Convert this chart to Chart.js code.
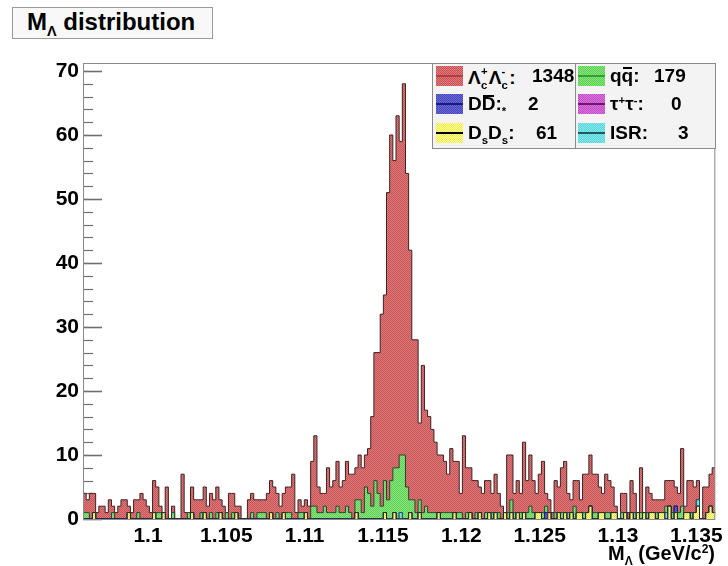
<!DOCTYPE html>
<html lang="en">
<head>
<meta charset="UTF-8">
<title>M_Lambda distribution</title>
<script src="https://cdn.jsdelivr.net/npm/chart.js"></script>
<style>
  body { margin: 0; background: #fff; }
  #wrap { position: relative; width: 728px; height: 566px; font-family: "Liberation Sans", Arial, sans-serif; font-weight: bold; color: #000; }
  #c { position: absolute; left: 0; top: 0; }
  .sub { font-size: 0.6em; position: relative; top: 0.45em; }
  .sup { font-size: 0.6em; position: relative; top: -0.55em; }
  /* bar over a letter, sitting just above the caps */
  .bar { position: relative; }
  .bar::before { content: ""; position: absolute; left: 1px; right: 1px; top: 0.1em; height: 2px; background: #000; }
  /* superscript stacked on subscript, ROOT style */
  .ss { display: inline-block; position: relative; width: 0.42em; height: 1em; vertical-align: baseline; }
  .ss b { position: absolute; left: 0.02em; font-size: 0.6em; }
  .ss .u { top: -0.45em; }
  .ss .d { top: 0.75em; }
  #title { position: absolute; left: 12px; top: 7px; width: 201px; height: 32px; box-sizing: border-box;
           border: 1px solid #9a9a9a; background: #f8f8f8; font-size: 24px; line-height: 28px; padding-left: 14px; white-space: nowrap; }
  #xtitle { position: absolute; right: 13px; top: 542px; font-size: 20px; white-space: nowrap; }
  #legend { position: absolute; left: 432px; top: 63px; width: 284px; height: 86px; box-sizing: border-box;
            border: 1px solid #8a8a8a; background: #f3f3f3; font-size: 19px; }
  #legend .div { position: absolute; left: 142px; top: 0; width: 1px; height: 100%; background: #8a8a8a; }
  .ent { position: absolute; height: 20px; white-space: nowrap; }
  .sw { position: absolute; left: 0; top: 0; width: 27px; height: 20px;
        background: repeating-conic-gradient(var(--a) 0 25%, var(--b) 0 50%) 0 0 / 2px 2px; }
  .sw::after { content: ""; position: absolute; left: 0; right: 0; top: 9px; height: 2px; background: var(--l); }
  .lab { position: absolute; left: 32px; top: -1px; line-height: 22px; }
  .val { position: absolute; top: -1px; line-height: 22px; }
</style>
</head>
<body>
<div id="wrap">
  <canvas id="c" width="728" height="566"></canvas>
  <div id="title">M<span class="sub">Λ</span> distribution</div>
  <div id="legend">
    <div class="div"></div>
    <div class="ent" style="left:3px;top:2px">
      <span class="sw" style="--a:#e27878;--b:#c45458;--l:#b04040"></span>
      <span class="lab">Λ<span class="ss"><b class="u">+</b><b class="d">c</b></span>Λ<span class="ss"><b class="u">-</b><b class="d">c</b></span>:</span>
      <span class="val" id="v-lc" style="left:96px"></span>
    </div>
    <div class="ent" style="left:3px;top:30px">
      <span class="sw" style="--a:#6a6ad8;--b:#4646b4;--l:#1a1a80"></span>
      <span class="lab">D<span class="bar">D</span>:<span class="sub">*</span></span>
      <span class="val" id="v-dd" style="left:92px"></span>
    </div>
    <div class="ent" style="left:3px;top:59px">
      <span class="sw" style="--a:#ffff8c;--b:#ebeb5a;--l:#000"></span>
      <span class="lab">D<span class="sub">s</span>D<span class="sub">s</span>:</span>
      <span class="val" id="v-ds" style="left:100px"></span>
    </div>
    <div class="ent" style="left:145px;top:2px">
      <span class="sw" style="--a:#82e878;--b:#5fcd55;--l:#3a9a3a"></span>
      <span class="lab">q<span class="bar">q</span>:</span>
      <span class="val" id="v-qq" style="left:76px"></span>
    </div>
    <div class="ent" style="left:145px;top:30px">
      <span class="sw" style="--a:#e16ee1;--b:#be50c3;--l:#6a1a6a"></span>
      <span class="lab">τ<span class="sup">+</span>τ<span class="sup">-</span>:</span>
      <span class="val" id="v-tt" style="left:93px"></span>
    </div>
    <div class="ent" style="left:145px;top:59px">
      <span class="sw" style="--a:#82ebeb;--b:#5ad2d7;--l:#1f5a5a"></span>
      <span class="lab">ISR:</span>
      <span class="val" id="v-isr" style="left:100px"></span>
    </div>
  </div>
  <div id="xtitle">M<span class="sub">Λ</span> (GeV/c<span class="sup">2</span>)</div>
</div>
<script>
// histogram binning
const xMin = 1.09585;
const xMax = 1.13621;
const nBins = 200;
const yMax = 71.25;

const xTicks = [1.1, 1.105, 1.11, 1.115, 1.12, 1.125, 1.13, 1.135];
const yTicks = [0, 10, 20, 30, 40, 50, 60, 70];

// events per bin, one array per sample
const lambdaC = [
  3,2,4,3,1,2,2,1,3,1, 1,2,3,3,1,1,3,2,4,3,
  2,1,5,4,1,0,5,0,1,0, 0,7,1,0,4,3,3,2,4,2,
  3,3,4,2,2,0,4,3,1,2, 0,0,3,3,3,2,2,2,4,5,
  5,3,2,3,4,4,7,1,2,1, 2,2,7,11,4,3,2,7,4,5,
  7,4,5,7,6,7,5,7,7,5, 7,14,20,22,30,29,48,54,48,55,
  49,58,49,39,25,27,12,23,15,15, 13,11,9,9,8,6,10,8,8,3,
  13,7,7,6,5,4,4,5,5,3, 6,3,2,0,9,7,3,5,3,11,
  5,8,5,3,6,8,2,2,1,5, 4,7,8,3,2,4,5,2,6,6,
  8,6,6,4,3,6,5,4,1,0, 3,3,1,5,3,0,7,0,4,3,
  2,2,2,2,4,4,5,3,3,9, 1,5,5,4,3,0,5,4,5,7
];
const qqbar = [
  1,1,0,0,0,0,0,0,0,1, 0,0,0,0,0,0,0,1,0,0,
  0,0,0,1,1,0,0,0,1,0, 0,0,0,1,0,0,0,1,0,0,
  1,0,1,0,0,1,0,1,0,0, 0,0,0,1,0,1,1,1,0,0,
  0,1,0,0,1,1,0,0,1,1, 0,0,2,2,1,1,2,1,1,1,
  2,1,1,2,1,0,2,3,1,5, 4,2,6,4,2,5,3,6,7,8,
  9,10,5,2,3,1,2,1,2,1, 1,1,0,1,1,1,1,0,1,1,
  0,1,0,0,1,0,0,1,0,1, 0,1,0,0,1,2,1,0,1,0,
  1,2,1,0,0,1,1,0,0,1, 0,1,0,1,0,2,0,0,1,0,
  0,1,1,0,0,1,1,0,0,0, 1,0,0,0,1,0,1,0,1,0,
  0,1,0,0,1,0,1,0,1,2, 0,0,1,0,0,0,0,0,0,0
];
const dsds = [
  0,0,0,1,0,0,0,0,0,0, 0,0,0,0,1,0,0,0,0,0,
  0,0,1,0,0,1,0,0,0,0, 0,0,0,0,1,0,0,0,1,0,
  0,0,0,1,0,0,0,0,1,0, 0,0,0,0,0,0,0,0,0,1,
  0,0,0,1,0,0,0,0,0,0, 1,0,0,0,0,0,0,0,0,0,
  0,0,0,0,0,0,1,0,0,0, 0,0,0,0,0,1,0,0,1,0,
  0,0,0,1,0,0,1,0,0,0, 0,0,1,0,0,0,0,1,0,0,
  0,0,1,0,0,1,0,0,1,0, 1,0,0,1,0,1,0,1,0,1,
  0,0,0,1,1,0,0,1,0,0, 1,0,1,0,1,0,1,1,0,1,
  2,0,0,1,1,0,0,1,1,0, 0,1,0,1,0,1,0,1,0,1,
  1,0,1,1,0,2,0,1,0,0, 1,1,0,1,2,0,0,1,2,1
];
const ddbar = [
  0,0,0,0,0,0,0,0,0,0, 0,0,0,0,0,0,0,0,0,0,
  0,0,0,0,0,0,0,0,0,0, 0,0,0,0,0,0,0,0,0,0,
  0,0,0,0,0,0,0,0,0,0, 0,0,0,0,0,0,0,0,0,0,
  0,0,0,0,0,0,0,0,0,0, 0,0,0,0,0,0,0,0,0,0,
  0,0,0,0,0,0,0,0,0,0, 0,0,0,0,0,0,0,0,0,0,
  0,0,0,0,0,0,0,0,0,0, 0,0,0,0,0,0,0,0,0,0,
  0,0,0,0,0,0,0,0,0,0, 0,0,0,0,0,0,0,0,0,0,
  0,0,0,0,0,0,1,0,0,0, 0,0,0,0,0,0,0,0,0,0,
  0,0,0,0,0,0,0,0,0,0, 0,0,0,0,0,0,0,0,0,0,
  0,0,0,0,0,0,0,1,0,0, 0,0,0,0,0,0,0,0,0,0
];
const tautau = [
  0,0,0,0,0,0,0,0,0,0, 0,0,0,0,0,0,0,0,0,0,
  0,0,0,0,0,0,0,0,0,0, 0,0,0,0,0,0,0,0,0,0,
  0,0,0,0,0,0,0,0,0,0, 0,0,0,0,0,0,0,0,0,0,
  0,0,0,0,0,0,0,0,0,0, 0,0,0,0,0,0,0,0,0,0,
  0,0,0,0,0,0,0,0,0,0, 0,0,0,0,0,0,0,0,0,0,
  0,0,0,0,0,0,0,0,0,0, 0,0,0,0,0,0,0,0,0,0,
  0,0,0,0,0,0,0,0,0,0, 0,0,0,0,0,0,0,0,0,0,
  0,0,0,0,0,0,0,0,0,0, 0,0,0,0,0,0,0,0,0,0,
  0,0,0,0,0,0,0,0,0,0, 0,0,0,0,0,0,0,0,0,0,
  0,0,0,0,0,0,0,0,0,0, 0,0,0,0,0,0,0,0,0,0
];
const isr = [
  0,0,0,0,0,0,0,0,0,0, 0,0,0,0,0,0,0,0,0,0,
  0,0,0,0,0,0,0,0,0,0, 0,0,0,0,0,0,0,0,0,0,
  0,0,0,0,0,0,0,0,0,0, 0,0,0,0,0,0,0,0,0,0,
  0,0,0,0,0,0,0,0,0,0, 0,0,0,0,0,0,0,0,0,0,
  0,0,0,0,0,0,0,0,0,0, 0,0,0,0,0,0,0,0,0,0,
  1,0,0,0,0,0,0,0,0,0, 0,0,0,0,0,0,0,0,0,0,
  0,0,0,0,0,0,0,0,0,0, 0,0,0,0,0,0,0,0,0,0,
  0,0,0,0,0,0,0,0,0,0, 0,0,0,0,0,0,0,0,0,0,
  0,0,0,0,0,0,0,0,0,0, 0,0,0,0,0,0,0,0,0,0,
  0,0,0,0,1,0,0,0,0,0, 0,0,0,0,1,0,0,0,0,0
];

const total = a => a.reduce((s, v) => s + v, 0);
const setCount = (id, a) => { document.getElementById(id).textContent = total(a); };
setCount('v-lc', lambdaC);
setCount('v-dd', ddbar);
setCount('v-ds', dsds);
setCount('v-qq', qqbar);
setCount('v-tt', tautau);
setCount('v-isr', isr);

const canvas = document.getElementById('c');
const ctx = canvas.getContext('2d');

// 2x2 checker used as the dotted fill style
function checker(light, dark) {
  const p = document.createElement('canvas');
  p.width = 2; p.height = 2;
  const g = p.getContext('2d');
  g.fillStyle = light; g.fillRect(0, 0, 2, 2);
  g.fillStyle = dark; g.fillRect(0, 0, 1, 1); g.fillRect(1, 1, 1, 1);
  return ctx.createPattern(p, 'repeat');
}

// bin contents -> step points at the left bin edges, closed at xMax
const binWidth = (xMax - xMin) / nBins;
function steps(counts) {
  const pts = counts.map((c, i) => ({ x: xMin + i * binWidth, y: c }));
  pts.push({ x: xMax, y: counts[counts.length - 1] });
  return pts;
}

function hist(label, counts, light, dark, line, first) {
  return {
    label: label,
    data: steps(counts),
    stepped: true,
    fill: first ? 'origin' : '-1',
    backgroundColor: checker(light, dark),
    borderColor: line,
    borderWidth: 1,
    pointRadius: 0
  };
}

// stack order, bottom to top
const datasets = [
  hist('DsDs', dsds, '#ffff8c', '#e6e655', '#222', true),
  hist('DD', ddbar, '#6a6ad8', '#4646b4', '#1a1a80', false),
  hist('ISR', isr, '#82ebeb', '#5ad2d7', '#1f5a5a', false),
  hist('tautau', tautau, '#e16ee1', '#be50c3', '#5a1a5a', false),
  hist('qq', qqbar, '#86e87c', '#62cd58', '#2d3d2d', false),
  hist('LcLc', lambdaC, '#e07878', '#c4565a', '#3c2424', false)
];

// ROOT-like frame: ticks inside the pad, grey border on top
const framePlugin = {
  id: 'frame',
  beforeDatasetsDraw(chart) {
    const { ctx, chartArea: a, scales: { y } } = chart;
    ctx.save();
    ctx.strokeStyle = '#6e6e6e';
    for (let v = 0; v <= 70; v += 2) {
      const py = Math.round(y.getPixelForValue(v)) + 0.5;
      const major = v % 10 === 0;
      ctx.lineWidth = major ? 1.6 : 1.2;
      ctx.beginPath();
      ctx.moveTo(a.left, py);
      ctx.lineTo(a.left + (major ? 19 : 10), py);
      ctx.stroke();
    }
    ctx.restore();
  },
  afterDatasetsDraw(chart) {
    const { ctx, chartArea: a } = chart;
    ctx.save();
    ctx.strokeStyle = '#8a8a8a';
    ctx.lineWidth = 1;
    ctx.strokeRect(a.left + 0.5, a.top + 0.5, a.right - a.left - 1, a.bottom - a.top);
    ctx.restore();
  }
};

const tickFont = { family: '"Liberation Sans", Arial, sans-serif', size: 21, weight: 'bold' };

new Chart(canvas, {
  type: 'line',
  data: { datasets: datasets },
  options: {
    responsive: false,
    animation: false,
    events: [],
    layout: { padding: { top: 63, right: 12, bottom: 0, left: 0 } },
    plugins: { legend: { display: false }, tooltip: { enabled: false } },
    scales: {
      x: {
        type: 'linear',
        min: xMin,
        max: xMax,
        grid: { display: false, drawTicks: false },
        border: { display: false },
        afterBuildTicks: s => { s.ticks = xTicks.map(v => ({ value: v })); },
        afterFit: s => { s.height = 47; },
        ticks: {
          font: tickFont, color: '#000', padding: 5, autoSkip: false, maxRotation: 0,
          callback: v => String(parseFloat(v.toFixed(4)))
        }
      },
      y: {
        type: 'linear',
        stacked: true,
        min: 0,
        max: yMax,
        grid: { display: false, drawTicks: false },
        border: { display: false },
        afterBuildTicks: s => { s.ticks = yTicks.map(v => ({ value: v })); },
        afterFit: s => { s.width = 83; },
        ticks: { font: tickFont, color: '#000', padding: 4 }
      }
    }
  },
  plugins: [framePlugin]
});
</script>
</body>
</html>
